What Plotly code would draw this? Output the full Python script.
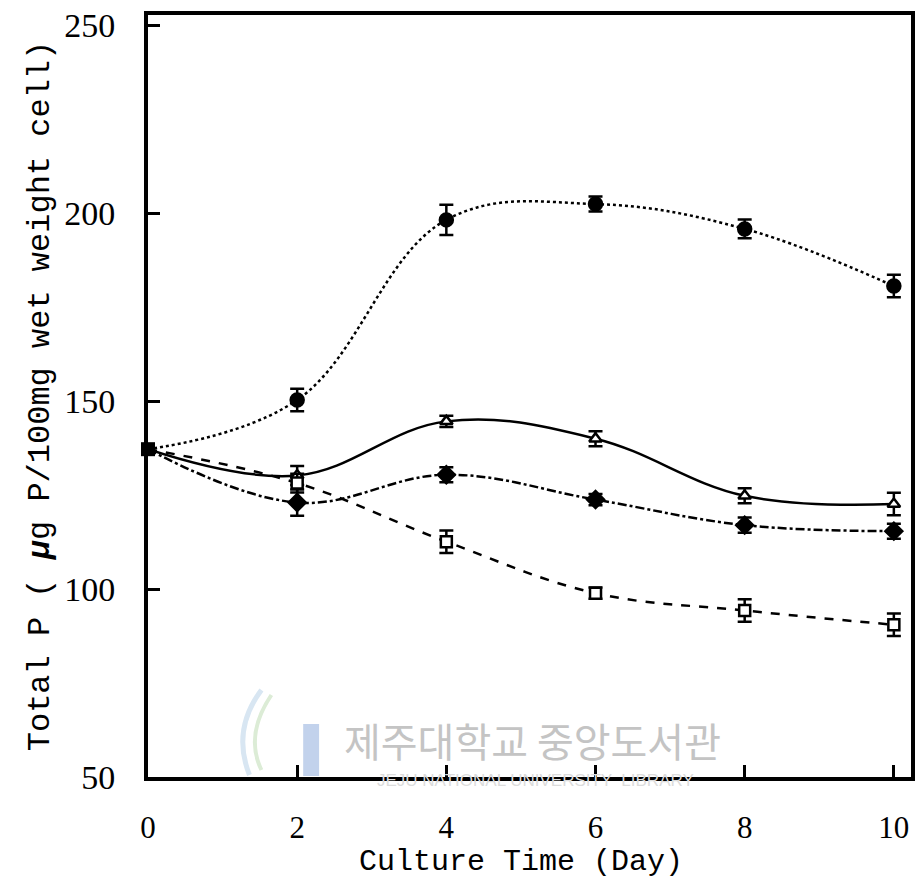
import plotly.graph_objects as go

days = [0, 2, 4, 6, 8, 10]
initial = 137.2

circle_vals = [initial, 150.3, 198.2, 202.4, 195.8, 180.6]
circle_err = [0, 3.0, 4.0, 2.0, 2.5, 3.0]
triangle_vals = [initial, 130.2, 144.6, 140.0, 124.8, 122.6]
triangle_err = [0, 2.5, 1.5, 2.0, 2.0, 3.0]
diamond_vals = [initial, 123.0, 130.4, 123.8, 117.0, 115.4]
diamond_err = [0, 3.5, 2.0, 1.5, 2.0, 2.0]
square_vals = [initial, 128.2, 112.6, 98.9, 94.3, 90.5]
square_err = [0, 2.5, 3.0, 1.5, 3.0, 3.0]

x_ticks = [0, 2, 4, 6, 8, 10]
y_ticks = [50, 100, 150, 200, 250]

fig = go.Figure()

def add_series(vals, err, dash, symbol, fill, size):
    sizes = [0] + [size] * (len(days) - 1)
    fig.add_trace(go.Scatter(
        x=days, y=vals, mode="lines+markers",
        line=dict(color="black", width=2.5, dash=dash, shape="spline", smoothing=1.1),
        marker=dict(symbol=symbol, size=sizes, color=fill, opacity=1,
                    line=dict(color="black", width=2.5)),
        error_y=dict(type="data", array=err, visible=True, color="black",
                     thickness=2.5, width=7),
        cliponaxis=False, showlegend=False,
    ))

add_series(circle_vals, circle_err, "dot", "circle", "black", 13)
add_series(triangle_vals, triangle_err, "solid", "triangle-up", "white", 11)
add_series(diamond_vals, diamond_err, "dashdot", "diamond", "black", 13)
add_series(square_vals, square_err, "dash", "square", "white", 11)

fig.add_trace(go.Scatter(
    x=[days[0]], y=[initial], mode="markers",
    marker=dict(symbol="square", size=14, color="black", opacity=1),
    cliponaxis=False, showlegend=False,
))

def px_x(px):
    return (px - 148) / 767

def px_y(py):
    return (777 - py) / 762

# watermark
fig.add_annotation(text="제주대학교 중앙도서관", xref="paper", yref="paper",
                   x=px_x(535), y=px_y(740), showarrow=False,
                   xanchor="center", yanchor="middle",
                   font=dict(family="Noto Sans CJK KR", size=40, color="#c4c4c4"))
fig.add_annotation(text="JEJU NATIONAL UNIVERSITY  LIBRARY", xref="paper", yref="paper",
                   x=px_x(538), y=px_y(781), showarrow=False,
                   xanchor="center", yanchor="middle",
                   font=dict(family="Liberation Sans", size=17, color="#dcdcdc"))
fig.add_shape(type="rect", xref="paper", yref="paper",
              x0=px_x(304), x1=px_x(320), y0=px_y(776), y1=px_y(724),
              fillcolor="#c2d2ec", line=dict(width=0), layer="below")
fig.add_shape(type="path", xref="paper", yref="paper",
              path=f"M {px_x(262)},{px_y(690)} Q {px_x(232)},{px_y(730)} {px_x(250)},{px_y(775)}",
              line=dict(color="#d8e6f2", width=5), layer="below")
fig.add_shape(type="path", xref="paper", yref="paper",
              path=f"M {px_x(272)},{px_y(695)} Q {px_x(245)},{px_y(735)} {px_x(262)},{px_y(770)}",
              line=dict(color="#dcecd6", width=4), layer="below")

# x-axis title
fig.add_annotation(text="Culture Time (Day)", xref="paper", yref="paper",
                   x=px_x(523), y=px_y(862), showarrow=False,
                   xanchor="center", yanchor="middle",
                   font=dict(family="Liberation Mono", size=30, color="black"))

fig.update_xaxes(
    range=[0, 10.23], tickvals=x_ticks, ticktext=[str(v) for v in x_ticks],
    showline=True, linecolor="black", linewidth=4, mirror=True,
    ticks="inside", ticklen=12, tickwidth=3, tickcolor="black",
    showgrid=False, zeroline=False, ticklabelstandoff=20,
    tickfont=dict(family="Liberation Serif", size=31, color="black"),
)
fig.update_yaxes(
    range=[50, 252.7], tickvals=y_ticks, ticktext=[str(v) for v in y_ticks],
    showline=True, linecolor="black", linewidth=4, mirror=True,
    ticks="inside", ticklen=12, tickwidth=3, tickcolor="black",
    showgrid=False, zeroline=False, ticklabelstandoff=22,
    tickfont=dict(family="Liberation Serif", size=34, color="black"),
    title=dict(text="Total P ( <i><b>μ</b></i>g P/100mg wet weight cell)", standoff=6,
               font=dict(family="Liberation Mono", size=32, color="black")),
)

fig.update_layout(
    width=919, height=883,
    margin=dict(l=148, r=4, t=15, b=106),
    plot_bgcolor="white", paper_bgcolor="white",
)

fig.write_html("out.html")
